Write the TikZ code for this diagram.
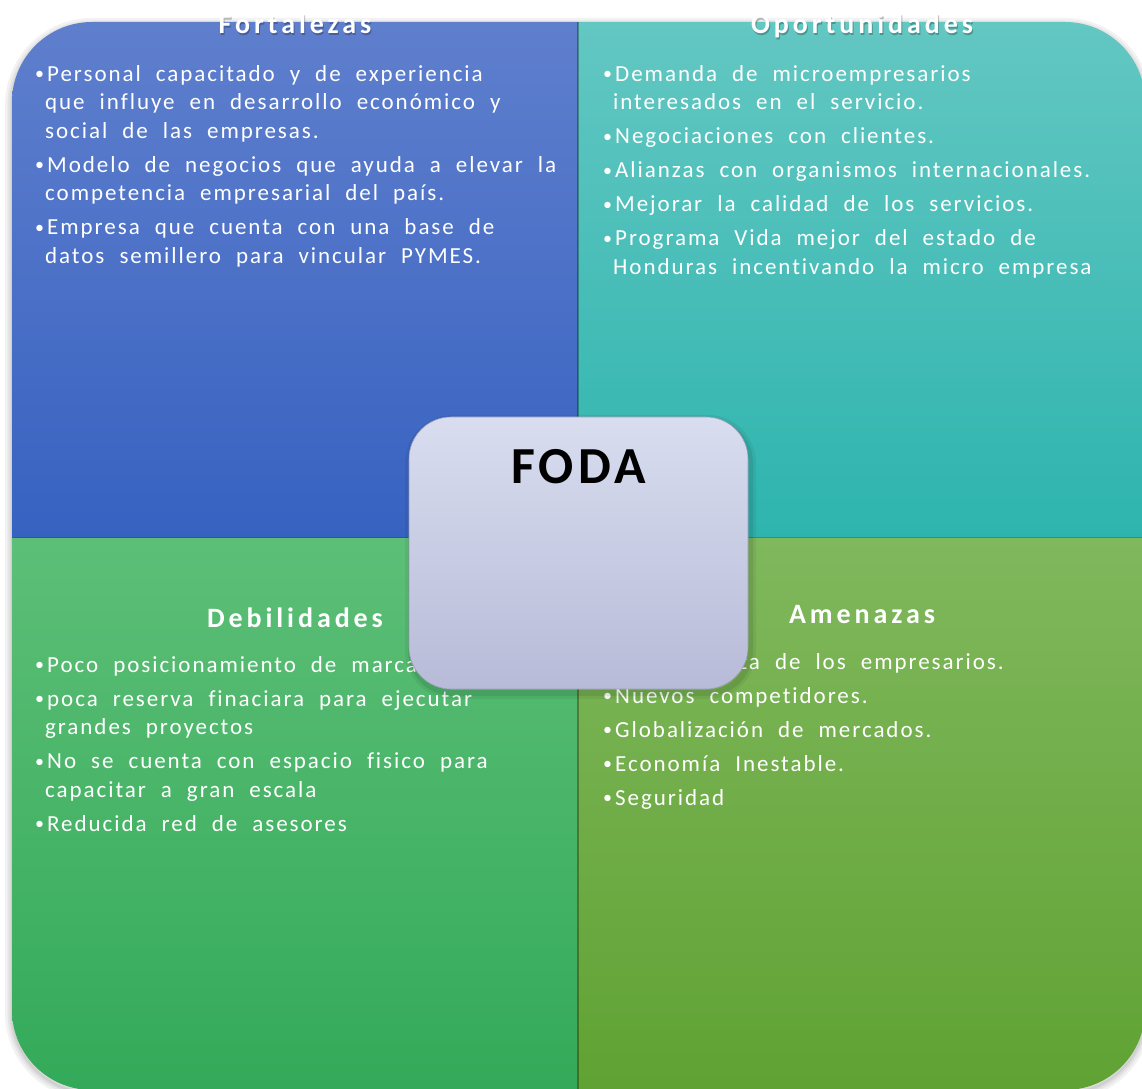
\documentclass[tikz,border=0pt]{standalone}
\usepackage{fontspec}
\usetikzlibrary{positioning}
\newfontfamily\swotfont{Carlito}[LetterSpace=8.5, WordSpace=2.1, Ligatures=NoCommon]
\newfontfamily\swottitle{Carlito}[LetterSpace=14, WordSpace=2.1, Ligatures=NoCommon]
\definecolor{fortTop}{HTML}{5F7FCD}
\definecolor{fortBot}{HTML}{3762C1}
\definecolor{oporTop}{HTML}{63C7C2}
\definecolor{oporBot}{HTML}{2EB4AE}
\definecolor{debilTop}{HTML}{5DBF77}
\definecolor{debilBot}{HTML}{33AA59}
\definecolor{amenTop}{HTML}{80B85D}
\definecolor{amenBot}{HTML}{60A233}
\definecolor{fodaTop}{HTML}{D9DDEF}
\definecolor{fodaBot}{HTML}{B7BBD8}
\definecolor{fodaEdge}{HTML}{9A9EB5}
\def\leftX{12}
\def\rightX{1145}
\def\midX{578}
\def\topY{1066}
\def\midY{550}
\def\botY{-2}
\def\cornerR{80}
\def\itemGap{5.5pt}
\newcommand\swotbullet{\makebox[12pt][l]{\raisebox{1.2pt}{\fontsize{18}{20}\selectfont•}}}
\newcommand\swotindent{\hspace*{10pt}}

\begin{document}
\begin{tikzpicture}[x=1pt, y=1pt,
    quadtitle/.style={text=white, inner sep=0pt, font=\swottitle\bfseries\fontsize{28}{32}\selectfont},
    titleshadow/.style={quadtitle, text=black, opacity=0.25},
    quadlist/.style={text=white, inner sep=0pt, align=left, font=\swotfont\fontsize{23}{28.5}\selectfont},
    fodabox/.style={minimum width=339pt, minimum height=272pt, rounded corners=42pt,
      draw=fodaEdge, line width=0.6pt, top color=fodaTop, bottom color=fodaBot,
      preaction={draw=black, opacity=0.05, line width=12pt, transform canvas={shift={(2pt,-4pt)}}},
      preaction={draw=black, opacity=0.08, line width=6pt, transform canvas={shift={(2pt,-4pt)}}}},
    fodalabel/.style={inner sep=0pt, font=\swotfont\bfseries\fontsize{52}{60}\selectfont}]

  \useasboundingbox (0,0) rectangle (1142,1088);
  \clip (0,0) rectangle (1142,1088);

  % soft shadow round the whole matrix
  \foreach \w in {14,9,5,2}
    \draw[black, opacity=0.05, line width=\w pt, rounded corners=\cornerR pt]
      (\leftX,{\botY-3}) rectangle (\rightX,{\topY-3});

  % Quadrants
  \path[top color=fortTop, bottom color=fortBot]
    (\midX,\topY) -- ({\leftX+\cornerR},\topY) arc[start angle=90, end angle=180, radius=\cornerR]
    -- (\leftX,\midY) -- (\midX,\midY) -- cycle;
  \path[top color=oporTop, bottom color=oporBot]
    (\midX,\topY) -- ({\rightX-\cornerR},\topY) arc[start angle=90, end angle=0, radius=\cornerR]
    -- (\rightX,\midY) -- (\midX,\midY) -- cycle;
  \path[top color=debilTop, bottom color=debilBot]
    (\midX,\midY) -- (\leftX,\midY) -- (\leftX,{\botY+\cornerR})
    arc[start angle=180, end angle=270, radius=\cornerR] -- (\midX,\botY) -- cycle;
  \path[top color=amenTop, bottom color=amenBot]
    (\midX,\midY) -- (\rightX,\midY) -- (\rightX,{\botY+\cornerR})
    arc[start angle=0, end angle=-90, radius=\cornerR] -- (\midX,\botY) -- cycle;

  % seams between quadrants
  \draw[black, opacity=0.3, line width=1.2pt] (\midX,\botY) -- (\midX,\topY);
  \draw[black, opacity=0.2, line width=1pt] (\leftX,\midY) -- (\rightX,\midY);

  % Titles (the top two stick out over the white margin, so they get a shadow)
  \node[titleshadow, anchor=base] at (296,1052.5) {Fortalezas};
  \node[titleshadow, anchor=base] at (863,1052.5) {Oportunidades};
  \node[quadtitle, anchor=base] (fortTitle)  at (295,1054) {Fortalezas};
  \node[quadtitle, anchor=base] (oporTitle)  at (862,1054) {Oportunidades};
  \node[quadtitle, anchor=base] (debilTitle) at (295,461)  {Debilidades};
  \node[quadtitle, anchor=base] (amenTitle)  at (862,465)  {Amenazas};

  % Lists
  \node[quadlist, anchor=north west] (fortList) at (35,1023) {%
    \swotbullet Personal capacitado y de experiencia\\
    \swotindent que influye en desarrollo económico y\\
    \swotindent social de las empresas.\\[\itemGap]
    \swotbullet Modelo de negocios que ayuda a elevar la\\
    \swotindent competencia empresarial del país.\\[\itemGap]
    \swotbullet Empresa que cuenta con una base de\\
    \swotindent datos semillero para vincular PYMES.};
  \node[quadlist, anchor=north west] (oporList) at (603,1023) {%
    \swotbullet Demanda de microempresarios\\
    \swotindent interesados en el servicio.\\[\itemGap]
    \swotbullet Negociaciones con clientes.\\[\itemGap]
    \swotbullet Alianzas con organismos internacionales.\\[\itemGap]
    \swotbullet Mejorar la calidad de los servicios.\\[\itemGap]
    \swotbullet Programa Vida mejor del estado de\\
    \swotindent Honduras incentivando la micro empresa};
  \node[quadlist, anchor=north west] (debilList) at (35,432) {%
    \swotbullet Poco posicionamiento de marca\\[\itemGap]
    \swotbullet poca reserva finaciara para ejecutar\\
    \swotindent grandes proyectos\\[\itemGap]
    \swotbullet No se cuenta con espacio fisico para\\
    \swotindent capacitar a gran escala\\[\itemGap]
    \swotbullet Reducida red de asesores};
  \node[quadlist, anchor=north west] (amenList) at (603,435) {%
    \swotbullet Desconfianza de los empresarios.\\[\itemGap]
    \swotbullet Nuevos competidores.\\[\itemGap]
    \swotbullet Globalización de mercados.\\[\itemGap]
    \swotbullet Economía Inestable.\\[\itemGap]
    \swotbullet Seguridad};

  % Centre box
  \node[fodabox] (foda) at (578.5,535) {};
  \node[fodalabel, below=33pt of foda.north] (fodaTitle) {FODA};
\end{tikzpicture}
\end{document}
